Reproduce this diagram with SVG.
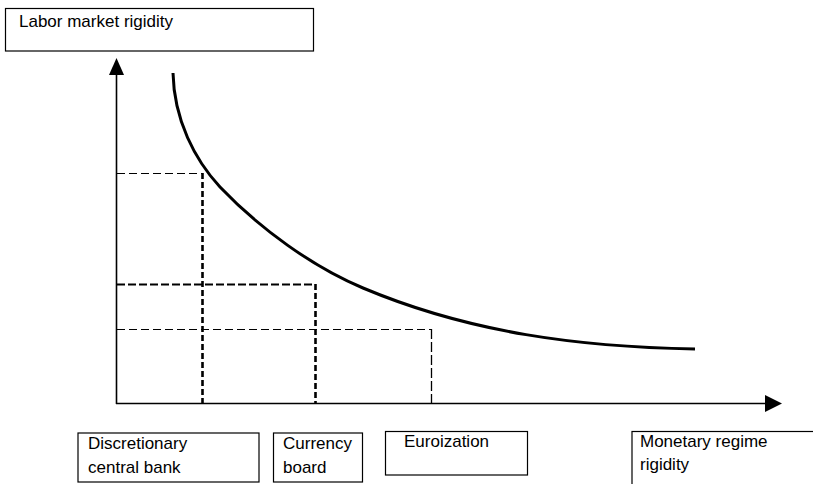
<svg xmlns="http://www.w3.org/2000/svg" width="813" height="484" viewBox="0 0 813 484">
<style>
.box{fill:#fff;stroke:#000;stroke-width:1.2}
.t{font-family:"Liberation Sans",Arial,sans-serif;font-size:17px;fill:#000}
.ax{stroke:#000;stroke-width:1.6;fill:none}
.thinh{stroke:#000;stroke-width:1.2;stroke-dasharray:8 4;fill:none}
.midh{stroke:#000;stroke-width:1.8;stroke-dasharray:8 3;fill:none}
.thickv{stroke:#000;stroke-width:2.6;stroke-dasharray:6 3;fill:none}
.thinv{stroke:#000;stroke-width:1.3;stroke-dasharray:10 3;fill:none}
</style>
<rect width="813" height="484" fill="#fff"/>
<g id="title-box">
<rect class="box" x="5.5" y="8.5" width="308" height="42.5"/>
<text class="t" x="19" y="27">Labor market rigidity</text>
</g>
<g id="axes">
<line class="ax" x1="116.5" y1="74" x2="116.5" y2="404"/>
<polygon points="116.5,58 109,75 124,75" fill="#000"/>
<line class="ax" x1="116" y1="403.5" x2="768" y2="403.5"/>
<polygon points="782,403.5 765,395 765,412" fill="#000"/>
</g>
<g id="connectors">
<line class="thinh" x1="117" y1="173.5" x2="202" y2="173.5"/>
<line class="thickv" x1="202.5" y1="173" x2="202.5" y2="403"/>
<line class="midh" x1="117" y1="284.5" x2="315" y2="284.5"/>
<line class="thickv" x1="315.5" y1="284" x2="315.5" y2="403"/>
<line class="thinh" x1="117" y1="329.5" x2="431" y2="329.5"/>
<line class="thinv" x1="431.5" y1="329" x2="431.5" y2="403"/>
</g>
<g id="curve">
<path d="M173,73 C174,120 195,160 220,187 C260,229 313,267 363,288 C470,333 580,347 695,349" fill="none" stroke="#000" stroke-width="3"/>
</g>
<g id="box-discretionary">
<rect class="box" x="78" y="433" width="181" height="49"/>
<text class="t" x="88" y="449">Discretionary</text>
<text class="t" x="88" y="473">central bank</text>
</g>
<g id="box-currency">
<rect class="box" x="273.5" y="433" width="89" height="49"/>
<text class="t" x="283" y="449">Currency</text>
<text class="t" x="283" y="473">board</text>
</g>
<g id="box-euroization">
<rect class="box" x="385.5" y="431.5" width="142" height="43.5"/>
<text class="t" x="404" y="447">Euroization</text>
</g>
<g id="box-monetary">
<rect class="box" x="632" y="431.5" width="200" height="70"/>
<text class="t" x="640" y="447">Monetary regime</text>
<text class="t" x="640" y="470">rigidity</text>
</g>
</svg>
